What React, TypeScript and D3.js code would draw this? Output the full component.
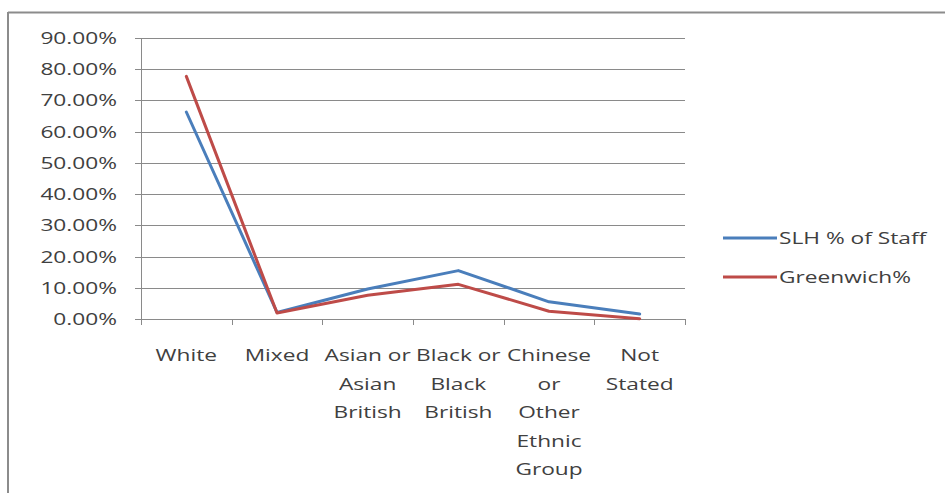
import React from "react";
import * as d3 from "d3";

const categories: string[][] = [
  ["White"],
  ["Mixed"],
  ["Asian or", "Asian", "British"],
  ["Black or", "Black", "British"],
  ["Chinese", "or", "Other", "Ethnic", "Group"],
  ["Not", "Stated"],
];
const slhStaff = [0.663, 0.021, 0.096, 0.155, 0.055, 0.016];
const greenwich = [0.777, 0.019, 0.076, 0.111, 0.025, 0.001];
const yTicks = [0, 0.1, 0.2, 0.3, 0.4, 0.5, 0.6, 0.7, 0.8, 0.9];
const seriesNames = ["SLH % of Staff", "Greenwich%"];
const seriesColors = ["#4a7ebb", "#be4b48"];

const W = 945;
const H = 493;
const plot = { left: 141, right: 685, top: 38, bottom: 319 };
const FONT = "'Open Sans', sans-serif";
const FS = 16;
const SX = 1.42;
const TEXT = "#404040";

function SText({ x, y, anchor, children }: { x: number; y: number; anchor: string; children: React.ReactNode }) {
  return (
    <text
      transform={`translate(${x},${y}) scale(${SX},1)`}
      textAnchor={anchor}
      fontFamily={FONT}
      fontSize={FS}
      fill={TEXT}
    >
      {children}
    </text>
  );
}

export default function App() {
  const idx = d3.range(categories.length);
  const x = d3.scaleBand<number>().domain(idx).range([plot.left, plot.right]).padding(0);
  const y = d3.scaleLinear().domain([0, 0.9]).range([plot.bottom, plot.top]);
  const cx = (i: number) => (x(i) as number) + x.bandwidth() / 2;
  const line = d3
    .line<number>()
    .x((_, i) => cx(i))
    .y((d) => y(d));
  const series = [slhStaff, greenwich];
  const fmt = (v: number) => (v * 100).toFixed(2) + "%";
  const tickXs = d3.range(categories.length + 1).map((i) =>
    i < categories.length ? (x(i) as number) : plot.right
  );

  return (
    <svg width={W} height={H} style={{ position: "absolute", left: 0, top: 0, background: "#fff" }}>
      <rect x={0} y={0} width={W} height={H} fill="#fff" />
      {/* outer frame */}
      <line x1={8} y1={12.5} x2={W} y2={12.5} stroke="#8c8c8c" strokeWidth={2} />
      <line x1={8} y1={12} x2={8} y2={H} stroke="#8c8c8c" strokeWidth={2} />

      {/* gridlines + y ticks */}
      {yTicks.map((t) => (
        <g key={t}>
          <line
            x1={plot.left - 6}
            x2={plot.right}
            y1={Math.round(y(t)) + 0.5}
            y2={Math.round(y(t)) + 0.5}
            stroke="#8a8a8a"
            strokeWidth={1}
          />
          <SText x={117} y={y(t) + 6} anchor="end">
            {fmt(t)}
          </SText>
        </g>
      ))}
      {/* y axis */}
      <line x1={plot.left + 0.5} x2={plot.left + 0.5} y1={plot.top} y2={plot.bottom} stroke="#8a8a8a" />
      {/* x axis ticks */}
      {tickXs.map((tx, i) => (
        <line key={i} x1={Math.round(tx) + 0.5} x2={Math.round(tx) + 0.5} y1={plot.bottom} y2={plot.bottom + 6} stroke="#8a8a8a" />
      ))}

      {/* x labels */}
      {categories.map((lines, i) => (
        <g key={i}>
          {lines.map((l, j) => (
            <SText key={j} x={cx(i)} y={361 + j * 28.5} anchor="middle">
              {l}
            </SText>
          ))}
        </g>
      ))}

      {/* series lines */}
      {series.map((s, k) => (
        <path
          key={k}
          d={line(s) as string}
          fill="none"
          stroke={seriesColors[k]}
          strokeWidth={3}
          strokeLinejoin="round"
          strokeLinecap="round"
        />
      ))}

      {/* legend */}
      {seriesNames.map((n, k) => {
        const ly = 238 + k * 39;
        return (
          <g key={n}>
            <line x1={723} x2={777} y1={ly} y2={ly} stroke={seriesColors[k]} strokeWidth={3} />
            <SText x={779} y={ly + 6} anchor="start">
              {n}
            </SText>
          </g>
        );
      })}
    </svg>
  );
}
